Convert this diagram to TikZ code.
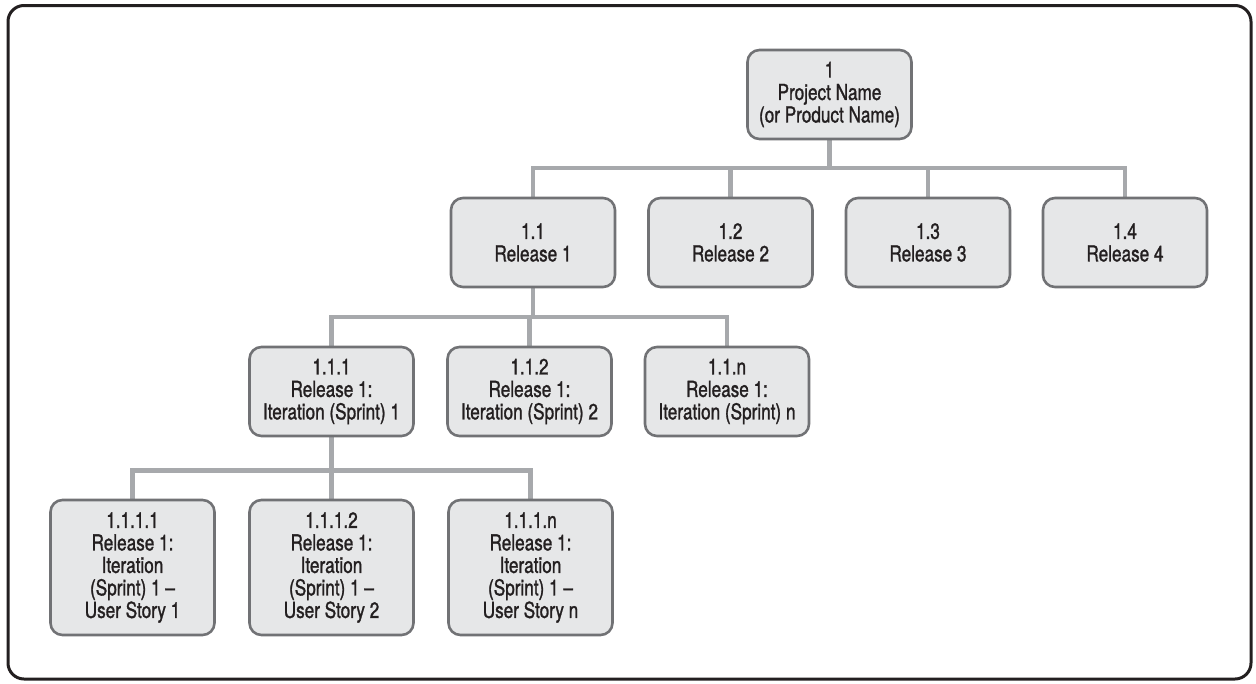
\documentclass[tikz,border=0pt]{standalone}
\usepackage{fontspec}
\setmainfont{TeX Gyre Heros}[FakeStretch=0.78,FakeBold=1.2]
\usetikzlibrary{backgrounds}
\definecolor{boxfill}{HTML}{E6E7E8}
\definecolor{boxline}{HTML}{717275}
\definecolor{conn}{HTML}{A7A9AC}
\definecolor{ink}{HTML}{231F20}
\tikzset{
  wbs/.style={draw=boxline, line width=2.6pt, fill=boxfill, rounded corners=12pt,
    minimum width=164pt, inner sep=0pt, align=center, text=ink,
    font=\fontsize{22}{22.5}\selectfont},
  lvltwo/.style={wbs, minimum height=89pt},
  lvlthree/.style={wbs, minimum height=135pt},
  link/.style={draw=conn, line width=4.5pt, line join=miter},
  frame/.style={draw=ink, line width=3pt, rounded corners=16pt}
}
\begin{document}
\begin{tikzpicture}[x=1pt,y=-1pt]
\useasboundingbox (0,0) rectangle (1256,683);
\draw[frame] (8,5.5) rectangle (1251,679);

\node[lvltwo] (root) at (829.5,94.5) {1\\Project Name\\(or Product Name)};

\node[lvltwo] (r1) at (533,242.5) {1.1\\Release 1};
\node[lvltwo] (r2) at (730.5,242.5) {1.2\\Release 2};
\node[lvltwo] (r3) at (928,242.5) {1.3\\Release 3};
\node[lvltwo] (r4) at (1125,242.5) {1.4\\Release 4};

\node[lvltwo] (i1) at (331.5,391.5) {1.1.1\\Release 1:\\Iteration (Sprint) 1};
\node[lvltwo] (i2) at (529.5,391.5) {1.1.2\\Release 1:\\Iteration (Sprint) 2};
\node[lvltwo] (in) at (727,391.5) {1.1.n\\Release 1:\\Iteration (Sprint) n};

\node[lvlthree] (s1) at (132.5,567.5) {1.1.1.1\\Release 1:\\Iteration\\(Sprint) 1 --\\User Story 1};
\node[lvlthree] (s2) at (331.5,567.5) {1.1.1.2\\Release 1:\\Iteration\\(Sprint) 1 --\\User Story 2};
\node[lvlthree] (sn) at (530.5,567.5) {1.1.1.n\\Release 1:\\Iteration\\(Sprint) 1 --\\User Story n};

\coordinate (busA) at (0,168);
\coordinate (busB) at (0,317);
\coordinate (busC) at (0,470.5);

\begin{scope}[on background layer]
  \foreach \c in {r1,r2,r3,r4}
    \draw[link] (root.south) -- (root.south |- busA) -| (\c.north);
  \foreach \c in {i1,i2,in}
    \draw[link] (r1.south) -- (r1.south |- busB) -| (\c.north);
  \foreach \c in {s1,s2,sn}
    \draw[link] (i1.south) -- (i1.south |- busC) -| (\c.north);
\end{scope}
\end{tikzpicture}
\end{document}
